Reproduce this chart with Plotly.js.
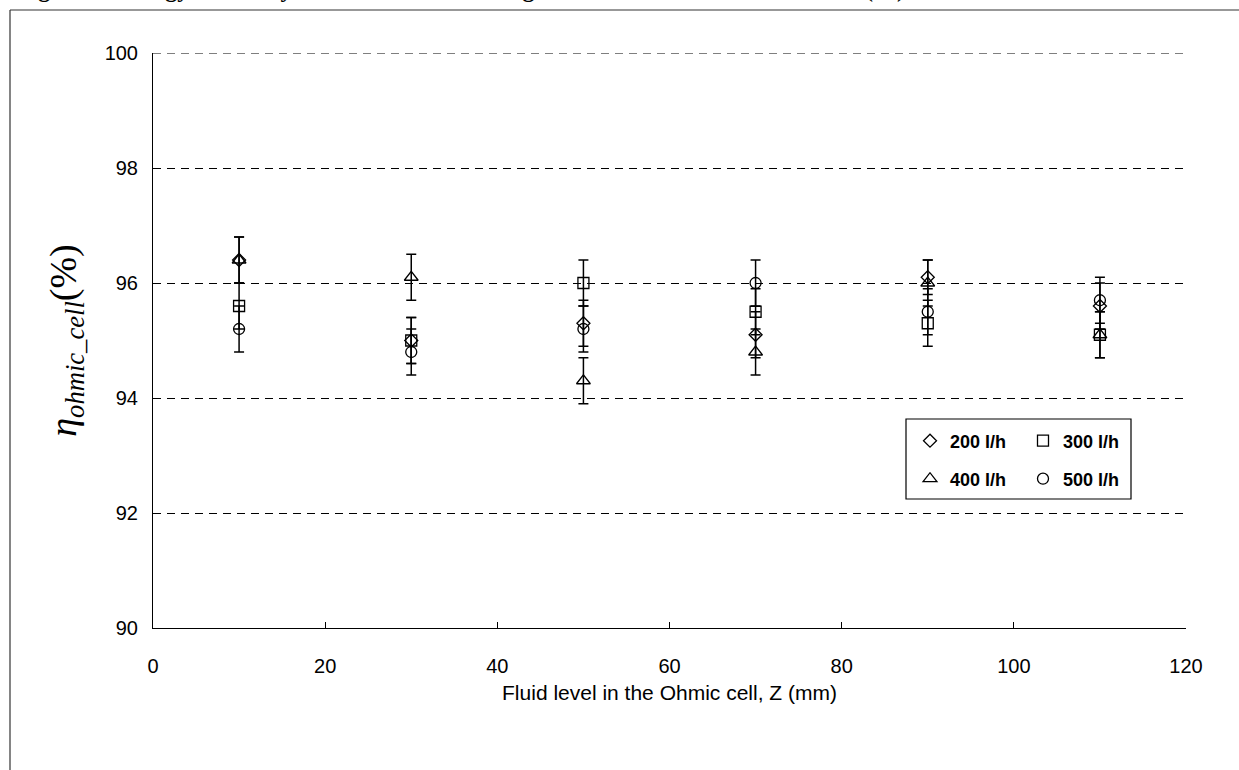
<!DOCTYPE html>
<html>
<head>
<meta charset="utf-8">
<script src="https://cdn.plot.ly/plotly-3.0.1.min.js"></script>
<style>html,body{margin:0;padding:0;background:#fff;}#chart{width:1239px;height:770px;}</style>
</head>
<body>
<div id="chart"></div>
<script>
// Data
const fluidLevel = [10, 30, 50, 70, 90, 110];           // Z (mm)
const seriesNames = ["200 l/h", "300 l/h", "400 l/h", "500 l/h"];
const eff200 = [96.4, 95.0, 95.3, 95.1, 96.1, 95.6];
const eff300 = [95.6, 95.0, 96.0, 95.5, 95.3, 95.1];
const eff400 = [96.4, 96.1, 94.3, 94.8, 96.0, 95.1];
const eff500 = [95.2, 94.8, 95.2, 96.0, 95.5, 95.7];
const err200 = [0.4, 0.4, 0.4, 0.4, 0.3, 0.4];
const err300 = [0.4, 0.4, 0.4, 0.4, 0.4, 0.4];
const err400 = [0.4, 0.4, 0.4, 0.4, 0.4, 0.4];
const err500 = [0.4, 0.4, 0.4, 0.4, 0.4, 0.4];
const xTicks = [0, 20, 40, 60, 80, 100, 120];
const yTicks = [90, 92, 94, 96, 98, 100];

const values = [eff200, eff300, eff400, eff500];
const errors = [err200, err300, err400, err500];
const symbols = ["diamond-open", "square-open", "triangle-up-open", "circle-open"];
const sizes = [10, 11, 12, 11];
const legendIds = ["legend", "legend", "legend2", "legend2"];

const traces = values.map((v, i) => ({
  type: "scatter",
  mode: "markers",
  name: seriesNames[i],
  x: fluidLevel,
  y: v,
  legend: legendIds[i],
  marker: {symbol: symbols[i], size: sizes[i], color: "#000", line: {color: "#000", width: 1.3}},
  error_y: {type: "data", array: errors[i], visible: true, color: "#000", thickness: 1.5, width: 5}
}));

const L = 153, R = 1186, T = 53, B = 628, W = 1239, H = 770;
const px = (x) => (x - L) / (R - L);
const py = (y) => (B - y) / (B - T);

const legendCommon = {
  orientation: "h", xanchor: "left", yanchor: "middle",
  bgcolor: "rgba(0,0,0,0)", borderwidth: 0,
  font: {size: 18, weight: "bold"}, itemwidth: 30,
  entrywidth: 68, entrywidthmode: "pixels", tracegroupgap: 0
};

const layout = {
  width: W, height: H,
  margin: {l: L, r: W - R, t: T, b: H - B},
  paper_bgcolor: "#fff", plot_bgcolor: "#fff",
  font: {family: "Liberation Sans, Arial, sans-serif", color: "#000", size: 20},
  showlegend: true,
  xaxis: {
    range: [0, 120], tickvals: xTicks, ticktext: xTicks.map(String),
    showline: true, linecolor: "#000", linewidth: 1,
    ticks: "inside", ticklen: 6, tickcolor: "#000",
    showgrid: false, zeroline: false,
    tickfont: {size: 20}, ticklabelstandoff: 20,
    title: {text: "Fluid level in the Ohmic cell, Z (mm)", font: {size: 21}, standoff: 9}
  },
  yaxis: {
    range: [90, 100], tickvals: yTicks, ticktext: yTicks.map(String),
    showline: true, linecolor: "#000", linewidth: 1,
    ticks: "inside", ticklen: 6, tickcolor: "#000",
    showgrid: true, gridcolor: "#000", gridwidth: 1, griddash: "8px,6px",
    zeroline: false, tickfont: {size: 20}, ticklabelstandoff: 10,
    title: {text: "<i>η</i><sub><i>ohmic_cell</i></sub>(%)", font: {family: "Liberation Serif, Times New Roman, serif", size: 38}, standoff: 16}
  },
  legend: Object.assign({x: px(910), y: py(441)}, legendCommon),
  legend2: Object.assign({x: px(910), y: py(479)}, legendCommon),
  shapes: [
    {type: "line", xref: "paper", yref: "y", x0: 0, x1: 1, y0: yTicks[yTicks.length - 1], y1: yTicks[yTicks.length - 1],
     line: {color: "#000", width: 1, dash: "8px,6px"}},
    {type: "rect", xref: "paper", yref: "paper", x0: px(906), x1: px(1131), y0: py(499), y1: py(419),
     line: {color: "#000", width: 1.2}, fillcolor: "rgba(0,0,0,0)"},
    {type: "line", xref: "paper", yref: "paper", x0: px(10), x1: px(1245), y0: py(10), y1: py(10),
     line: {color: "#333", width: 1.2}},
    {type: "line", xref: "paper", yref: "paper", x0: px(10), x1: px(10), y0: py(10), y1: py(775),
     line: {color: "#333", width: 1.2}}
  ],
  annotations: [
    {text: "<b>Figure 6. Energy efficiency of the Ohmic cell along the fluid level in the Ohmic cell (%)</b>",
     xref: "paper", yref: "paper", x: px(15), xanchor: "left", y: py(4), yanchor: "bottom",
     showarrow: false, font: {family: "Liberation Serif, Times New Roman, serif", size: 24}}
  ]
};

Plotly.newPlot("chart", traces, layout, {displayModeBar: false, staticPlot: true});
</script>
</body>
</html>
